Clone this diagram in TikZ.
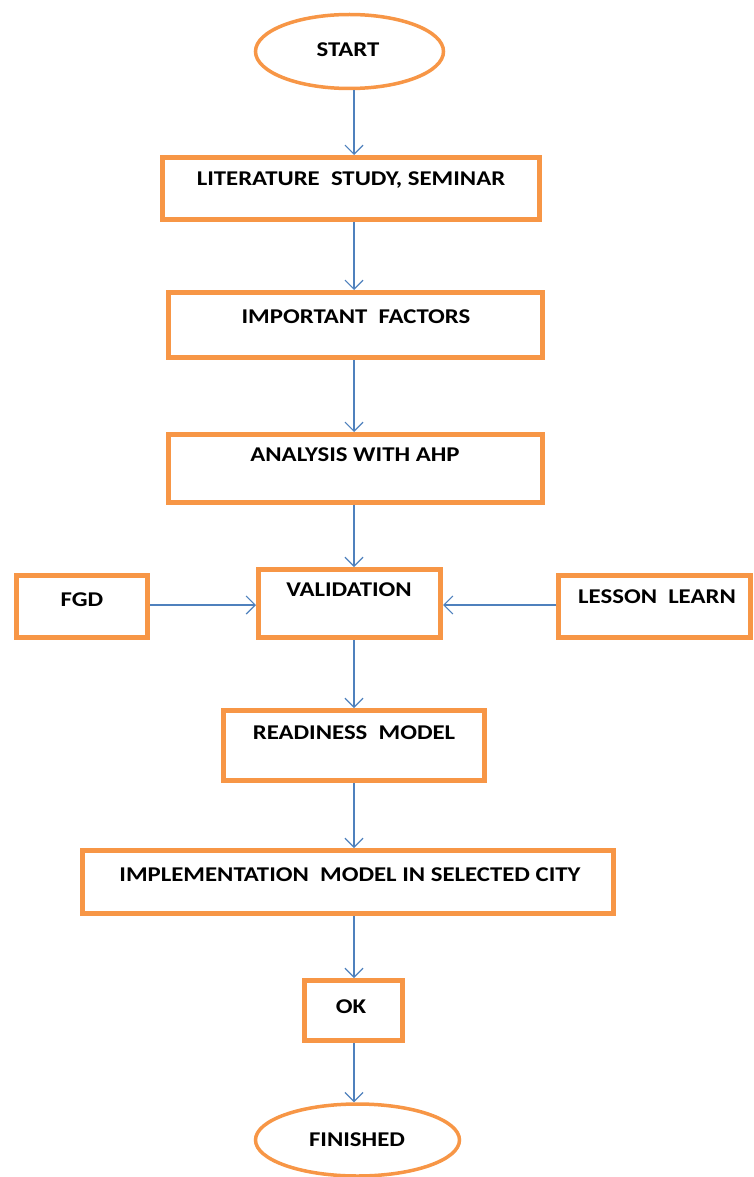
\documentclass[tikz,border=0pt]{standalone}
\usepackage{fontspec}
\setmainfont{Carlito}
\newfontfamily\lblfont[FakeStretch=1.18]{Carlito}
\usetikzlibrary{arrows.meta,shapes.geometric}
\definecolor{boxorange}{HTML}{F79646}
\definecolor{flowblue}{HTML}{4F81BD}
\tikzset{
  stepbox/.style={draw=boxorange, line width=5pt, fill=white, inner sep=0pt},
  terminal/.style={draw=boxorange, line width=3.5pt, ellipse, fill=white, inner sep=0pt},
  lbl/.style={font=\lblfont\fontsize{21}{24}\selectfont\bfseries, inner sep=0pt, anchor=center},
  flow/.style={draw=flowblue, line width=2pt, -{Straight Barb[length=9pt,width=18pt,line width=1.2pt]}},
}
\begin{document}
\begin{tikzpicture}[x=1pt,y=-1pt]
\useasboundingbox (0,0) rectangle (753,1177);
\coordinate (axis) at (354,0);

% terminals
\node[terminal, minimum width=188pt, minimum height=74pt] (start) at (349.5,51.5) {};
\node[lbl] (start-t) at (348,50) {START};

\node[terminal, minimum width=204pt, minimum height=72pt] (fin) at (357.5,1140) {};
\node[lbl] (fin-t) at (357,1140) {FINISHED};

% process boxes
\node[stepbox, minimum width=377pt, minimum height=62pt] (lit) at (351,188.5) {};
\node[lbl] (lit-t) at (351,180) {LITERATURE\ \ STUDY, SEMINAR};

\node[stepbox, minimum width=374pt, minimum height=65pt] (imp) at (355.5,325) {};
\node[lbl] (imp-t) at (356,317) {IMPORTANT\ \ FACTORS};

\node[stepbox, minimum width=374pt, minimum height=68pt] (ahp) at (355.5,468.5) {};
\node[lbl] (ahp-t) at (355,455) {ANALYSIS WITH AHP};

\node[stepbox, minimum width=182pt, minimum height=68pt] (val) at (349.5,603.5) {};
\node[lbl] (val-t) at (349,590) {VALIDATION};

\node[stepbox, minimum width=131pt, minimum height=62pt] (fgd) at (82,606.5) {};
\node[lbl] (fgd-t) at (82,600) {FGD};

\node[stepbox, minimum width=192pt, minimum height=62pt] (les) at (654.5,606.5) {};
\node[lbl] (les-t) at (657,597) {LESSON\ \ LEARN};

\node[stepbox, minimum width=261pt, minimum height=70pt] (ready) at (354,745.5) {};
\node[lbl] (ready-t) at (354,733) {READINESS\ \ MODEL};

\node[stepbox, minimum width=531pt, minimum height=63pt] (impl) at (348,882) {};
\node[lbl] (impl-t) at (350,875) {IMPLEMENTATION\ \ MODEL IN SELECTED CITY};

\node[stepbox, minimum width=98pt, minimum height=60pt] (ok) at (353.5,1010.5) {};
\node[lbl] (ok-t) at (351,1007) {OK};

% connectors
\draw[flow] (start.south -| axis) -- (lit.north -| axis);
\draw[flow] (lit.south -| axis) -- (imp.north -| axis);
\draw[flow] (imp.south -| axis) -- (ahp.north -| axis);
\draw[flow] (ahp.south -| axis) -- (val.north -| axis);
\draw[flow] (val.south -| axis) -- (ready.north -| axis);
\draw[flow] (ready.south -| axis) -- (impl.north -| axis);
\draw[flow] (impl.south -| axis) -- (ok.north -| axis);
\draw[flow] (ok.south -| axis) -- (fin.north -| axis);
\draw[flow] (fgd.east |- 0,605) -- (val.west |- 0,605);
\draw[flow] (les.west |- 0,605) -- (val.east |- 0,605);
\end{tikzpicture}
\end{document}
